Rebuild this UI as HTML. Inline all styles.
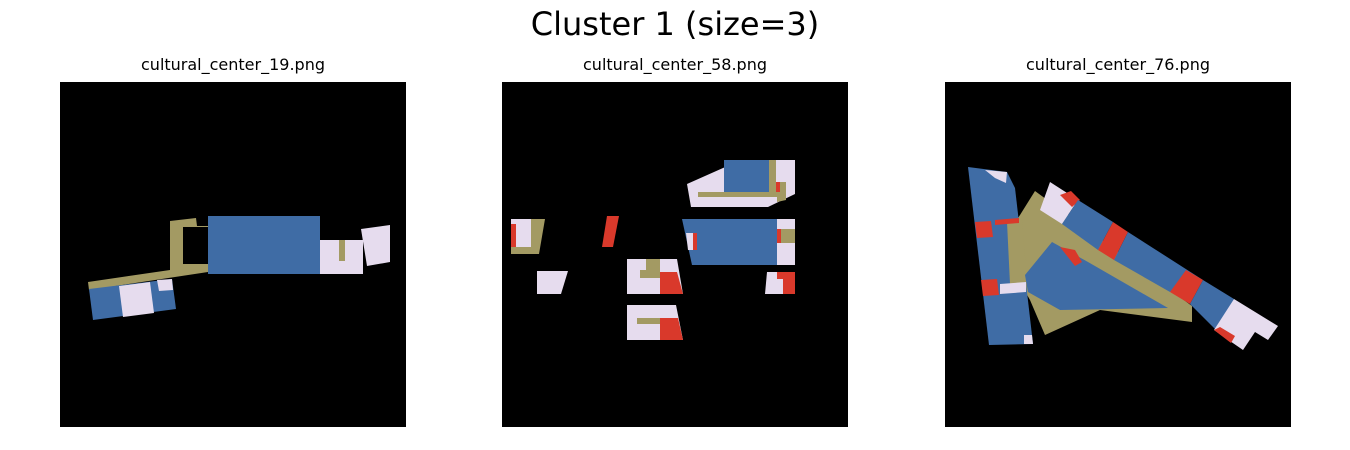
<!DOCTYPE html>
<html><head><meta charset="utf-8"><style>
html,body{margin:0;padding:0;background:#fff;}
svg{display:block;}
text{font-family:"DejaVu Sans","Liberation Sans",sans-serif;fill:#000;}
</style></head><body>
<svg width="1350" height="450" viewBox="0 0 1350 450" xmlns="http://www.w3.org/2000/svg">
<text x="675" y="35" font-size="32" text-anchor="middle">Cluster 1 (size=3)</text>
<text x="233" y="70" font-size="16" text-anchor="middle">cultural_center_19.png</text>
<text x="675" y="70" font-size="16" text-anchor="middle">cultural_center_58.png</text>
<text x="1118" y="70" font-size="16" text-anchor="middle">cultural_center_76.png</text>
<rect x="60" y="82" width="346" height="345" fill="#000"/>
<rect x="502" y="82" width="346" height="345" fill="#000"/>
<rect x="945" y="82" width="346" height="345" fill="#000"/>
<g>
<!-- panel 1 -->
<polygon points="88,282 170,270 170,221 196,218 197,226 208,226 208,272 89,290" fill="#a39a63"/>
<rect x="183" y="227" width="25" height="37" fill="#000"/>
<rect x="208" y="216" width="112" height="58" fill="#3f6ca5"/>
<rect x="320" y="240" width="43" height="34" fill="#e6dcee"/>
<rect x="339" y="240" width="6" height="21" fill="#a39a63"/>
<polygon points="361,229 390,225 390,262 367,266" fill="#e6dcee"/>
<polygon points="89,289 172,279 176,309 93,320" fill="#3f6ca5"/>
<polygon points="119,286 150,282 154,313 123,317" fill="#e6dcee"/>
<polygon points="157,280 172,279 173,290 159,291" fill="#e6dcee"/>
<!-- panel 2 -->
<polygon points="687,184 741,160 795,160 795,194 768,207 691,207" fill="#e6dcee"/>
<rect x="724" y="160" width="46" height="32" fill="#3f6ca5"/>
<rect x="769" y="160" width="7" height="32" fill="#a39a63"/>
<rect x="698" y="192" width="87" height="5" fill="#a39a63"/>
<polygon points="777,182 786,182 786,200 777,202" fill="#a39a63"/>
<rect x="776" y="182" width="4" height="10" fill="#d9392b"/>
<polygon points="682,219 777,219 777,265 692,265" fill="#3f6ca5"/>
<rect x="777" y="219" width="18" height="46" fill="#e6dcee"/>
<rect x="780" y="229" width="15" height="14" fill="#a39a63"/>
<rect x="777" y="229" width="4" height="14" fill="#d9392b"/>
<polygon points="686,233 694,233 694,250 688,250" fill="#e6dcee"/>
<rect x="693" y="233" width="4" height="17" fill="#d9392b"/>
<polygon points="511,219 545,219 539,254 511,254" fill="#a39a63"/>
<rect x="511" y="219" width="20" height="28" fill="#e6dcee"/>
<rect x="511" y="224" width="5" height="23" fill="#d9392b"/>
<polygon points="607,216 619,216 613,247 602,247" fill="#d9392b"/>
<polygon points="537,271 568,271 561,294 537,294" fill="#e6dcee"/>
<polygon points="627,259 677,259 683,294 627,294" fill="#e6dcee"/>
<polygon points="660,272 677,272 683,294 660,294" fill="#d9392b"/>
<polygon points="646,259 660,259 660,278 640,278 640,270 646,270" fill="#a39a63"/>
<polygon points="627,305 676,305 683,340 627,340" fill="#e6dcee"/>
<polygon points="660,318 678,318 683,340 660,340" fill="#d9392b"/>
<rect x="637" y="318" width="23" height="6" fill="#a39a63"/>
<polygon points="767,272 795,272 795,294 765,294" fill="#e6dcee"/>
<polygon points="777,272 795,272 795,294 783,294 783,279 777,279" fill="#d9392b"/>
<!-- panel 3 -->
<polygon points="1035,191 1192,306 1192,322 1100,310 1045,335 1030,300 1010,265 1010,230 1020,215" fill="#a39a63"/>
<polygon points="968,167 1007,172 1015,188 1033,344 989,345" fill="#3f6ca5"/>
<polygon points="1007,222 1022,220 1027,282 1010,284" fill="#a39a63"/>
<polygon points="985,170 1007,172 1006,183 995,178" fill="#e6dcee"/>
<polygon points="975,222 991,221 993,237 977,238" fill="#d9392b"/>
<polygon points="995,220 1019,218 1019,223 995,225" fill="#d9392b"/>
<polygon points="981,280 997,279 999,295 983,296" fill="#d9392b"/>
<polygon points="1000,284 1026,282 1026,292 1000,294" fill="#e6dcee"/>
<polygon points="1024,335 1032,335 1033,344 1024,344" fill="#e6dcee"/>
<polygon points="1025,275 1052,242 1088,262 1168,308 1060,310 1028,292" fill="#3f6ca5"/>
<polygon points="1040,210 1050,182 1078,200 1062,224" fill="#e6dcee"/>
<polygon points="1060,195 1071,191 1080,200 1072,207" fill="#d9392b"/>
<polygon points="1062,224 1078,200 1113,222 1098,250" fill="#3f6ca5"/>
<polygon points="1098,250 1113,222 1128,232 1114,260" fill="#d9392b"/>
<polygon points="1114,260 1128,232 1203,280 1170,292" fill="#3f6ca5"/>
<polygon points="1170,292 1186,270 1203,280 1190,304" fill="#d9392b"/>
<polygon points="1190,304 1203,280 1234,299 1219,333" fill="#3f6ca5"/>
<polygon points="1214,330 1234,299 1278,326 1268,340 1255,332 1243,350" fill="#e6dcee"/>
<polygon points="1214,330 1220,327 1235,336 1231,343" fill="#d9392b"/>
<polygon points="1060,247 1075,250 1082,262 1075,266" fill="#d9392b"/>
</g>
</svg>
</body></html>
